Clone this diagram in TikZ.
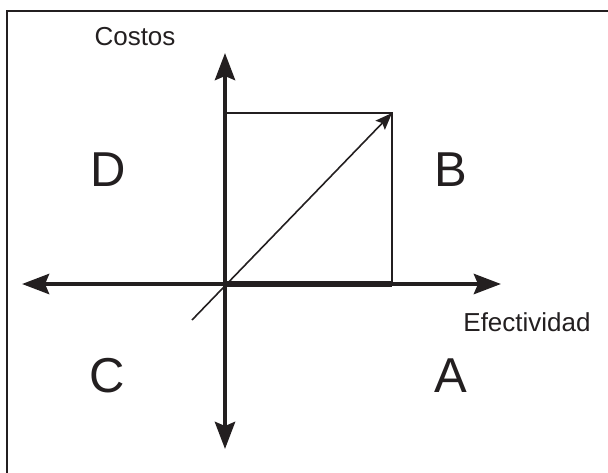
\documentclass[tikz,border=0pt]{standalone}
\usepackage{fontspec}
\setmainfont{Liberation Sans}
\usetikzlibrary{arrows.meta}
\definecolor{ink}{HTML}{231F20}
\begin{document}
\begin{tikzpicture}[x=1pt,y=-1pt,
  axis/.style={draw=ink,line width=4.5pt,-{Stealth[length=27pt,width=20pt,inset=4pt]}},
  thinline/.style={draw=ink,line width=1.6pt},
  quad/.style={text=ink,font=\fontsize{49}{55}\selectfont,inner sep=0pt},
  axlabel/.style={text=ink,font=\fontsize{26}{30}\selectfont,inner sep=0pt}]
\useasboundingbox (0,0) rectangle (608,472);
% frame
\draw[draw=ink,line width=2pt] (7,480) -- (7,11) -- (616,11);
% coordinates
\coordinate (O) at (225,284);
\coordinate (top) at (225,53);
\coordinate (bot) at (225,449);
\coordinate (left) at (22,284);
\coordinate (right) at (501,284);
\coordinate (R) at (392,284);
\coordinate (RT) at (392,113);
\coordinate (LT) at (225,113);
\coordinate (ds) at (192,320);
% rectangle
\draw[thinline] (LT) -- (RT) -- (R);
% thick bottom of rectangle
\draw[draw=ink,line width=6pt] (O) -- (R);
% axes
\draw[axis] (O) -- (top);
\draw[axis] (O) -- (bot);
\draw[axis] (O) -- (left);
\draw[axis] (O) -- (right);
% diagonal
\draw[thinline,-{Stealth[length=17pt,width=13pt,inset=3pt]}] (ds) -- (RT);
% labels
\node[axlabel] (costos) at (135,37) {Costos};
\node[axlabel] (efec) at (527,322) {Efectividad};
\node[quad] (D) at (108,170) {D};
\node[quad] (B) at (451,170) {B};
\node[quad] (C) at (107,376) {C};
\node[quad] (A) at (451,376) {A};
\end{tikzpicture}
\end{document}
